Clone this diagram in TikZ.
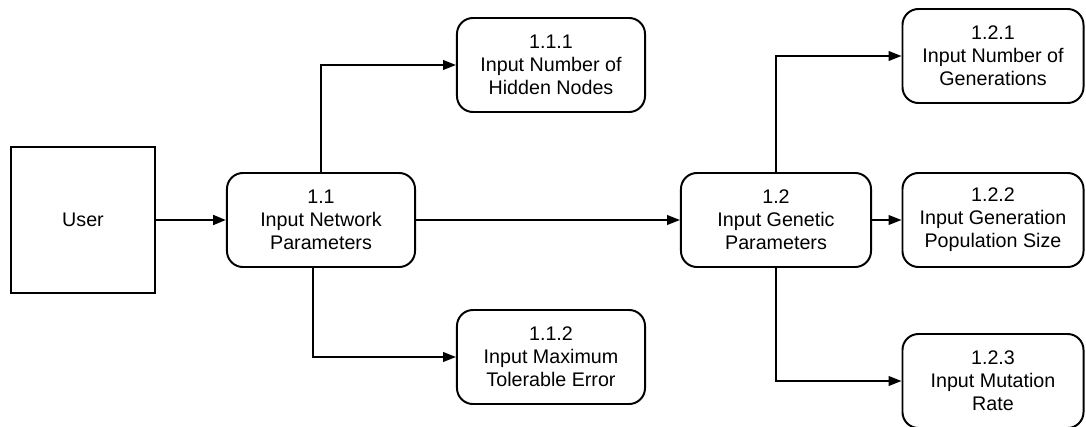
\documentclass[tikz,border=0pt]{standalone}
\usepackage{fontspec}
\setmainfont{Liberation Sans}
\usetikzlibrary{arrows.meta}
\begin{document}
\begin{tikzpicture}[x=0.025cm, y=-0.025cm,
	entity/.style={draw, line width=1.4pt, minimum width=3.6cm, minimum height=3.625cm, font=\fontsize{14}{16.3}\selectfont},
	process/.style={draw, line width=1.4pt, rounded corners=0.4cm, align=center, inner sep=0pt, minimum height=2.35cm, font=\fontsize{14}{16.3}\selectfont},
	flow/.style={line width=1.2pt, -{Triangle[length=0.32cm, width=0.24cm]}}]
	% frame of the page
	\useasboundingbox (0,0) rectangle (1086,427);
	% external entity
	\node[entity] (user) at (83,220) {User};
	% first level
	\node[process, minimum width=4.7cm] (p11) at (321,220) {1.1\\Input Network\\Parameters};
	\node[process, minimum width=4.75cm] (p12) at (776,220) {1.2\\Input Genetic\\Parameters};
	% network parameters
	\node[process, minimum width=4.7cm] (p111) at (551,65) {1.1.1\\Input Number of\\Hidden Nodes};
	\node[process, minimum width=4.7cm] (p112) at (551,357) {1.1.2\\Input Maximum\\Tolerable Error};
	% genetic parameters
	\node[process, minimum width=4.525cm] (p121) at (993,56) {1.2.1\\Input Number of\\Generations};
	\node[process, minimum width=4.525cm] (p122) at (993,220) {1.2.2\\Input Generation\\Population Size};
	\node[process, minimum width=4.525cm] (p123) at (993,381) {1.2.3\\Input Mutation\\Rate};
	% data flows
	\draw[flow, line width=1.8pt] (user) -- (p11);
	\draw[flow] (p11) -- (p12);
	\draw[flow] (p11) |- (p111);
	\draw[flow] ([xshift=-0.2cm]p11.south) |- (p112);
	\draw[flow] (p12) |- (p121);
	\draw[flow] (p12) -- (p122);
	\draw[flow] (p12) |- (p123);
\end{tikzpicture}
\end{document}
